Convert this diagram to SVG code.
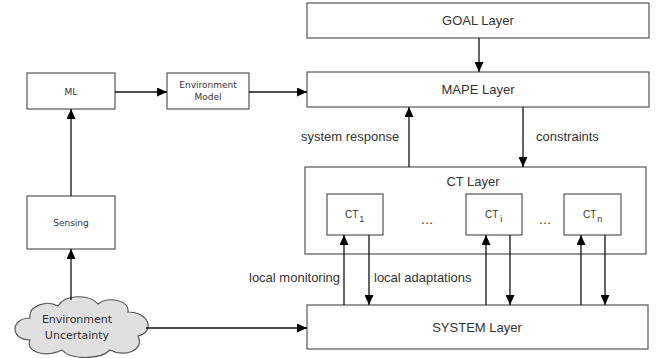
<svg xmlns="http://www.w3.org/2000/svg" width="657" height="358" viewBox="0 0 657 358">
<defs>
<marker id="ah" markerUnits="userSpaceOnUse" markerWidth="10" markerHeight="9" refX="10" refY="4.5" orient="auto">
<path d="M0,0 L10,4.5 L0,9 z" fill="#000"/>
</marker>
<style>
.box{fill:#fff;stroke:#555;stroke-width:1.2}
.lt{font-family:"Liberation Sans",Arial,sans-serif;font-size:13px;fill:#333}
.st{font-family:"DejaVu Sans",Verdana,sans-serif;font-size:9px;fill:#333}
.ct{font-family:"Liberation Sans",Arial,sans-serif;font-size:10px;fill:#333}
.sub{font-size:9px}
.c{stroke:#111;stroke-width:1.3;fill:none;marker-end:url(#ah)}
.cn{stroke:#111;stroke-width:1.3;fill:none}
</style>
</defs>
<rect width="657" height="358" fill="#fff"/>
<g id="goal"><rect class="box" x="307" y="3" width="342" height="35"/><text class="lt" x="478" y="25" text-anchor="middle">GOAL Layer</text></g>
<g id="mape"><rect class="box" x="307" y="72" width="342" height="35"/><text class="lt" x="478" y="94" text-anchor="middle">MAPE Layer</text></g>
<g id="ml"><rect class="box" x="27" y="73" width="88" height="36"/><text class="st" x="71" y="95" text-anchor="middle">ML</text></g>
<g id="envmodel"><rect class="box" x="167" y="73" width="82" height="36"/><text class="st" x="208" y="88" text-anchor="middle">Environment</text><text class="st" x="208" y="100" text-anchor="middle">Model</text></g>
<g id="sensing"><rect class="box" x="27" y="196" width="88" height="53"/><text class="st" x="71" y="226" text-anchor="middle">Sensing</text></g>
<g id="ctlayer"><rect class="box" x="305" y="167" width="341" height="87"/><text class="lt" x="473" y="186" text-anchor="middle">CT Layer</text>
<text class="lt" x="427" y="224" text-anchor="middle">…</text><text class="lt" x="545" y="224" text-anchor="middle">…</text></g>
<g id="ct1"><rect class="box" x="327" y="194" width="56" height="41"/><text class="ct" x="345" y="218">CT<tspan class="sub" dx="1" dy="4">1</tspan></text></g>
<g id="cti"><rect class="box" x="466" y="194" width="56" height="41"/><text class="ct" x="485" y="218">CT<tspan class="sub" dx="2" dy="4">i</tspan></text></g>
<g id="ctn"><rect class="box" x="564" y="194" width="57" height="41"/><text class="ct" x="583" y="218">CT<tspan class="sub" dx="1" dy="4">n</tspan></text></g>
<g id="system"><rect class="box" x="307" y="305" width="341" height="44"/><text class="lt" x="477" y="332" text-anchor="middle">SYSTEM Layer</text></g>
<g id="cloud"><path d="M30 340 C10 340 10 318 30 318 C28 305 48 300 58 306 C65 294 90 294 98 304 C108 296 130 300 128 312 C150 312 155 332 138 336 C145 350 125 358 110 350 C100 360 70 360 62 350 C45 358 25 352 30 340 Z" fill="#e0e0e0" stroke="#555" stroke-width="1.2"/>
<text font-family="DejaVu Sans,Verdana,sans-serif" font-size="11" fill="#333" x="77" y="323" text-anchor="middle">Environment</text>
<text font-family="DejaVu Sans,Verdana,sans-serif" font-size="11" fill="#333" x="77" y="339" text-anchor="middle">Uncertainty</text></g>
<g id="connectors">
<line class="c" x1="479" y1="38" x2="479" y2="72"/>
<line class="c" x1="115" y1="92" x2="167" y2="92"/>
<line class="c" x1="249" y1="92" x2="307" y2="92"/>
<line class="c" x1="71" y1="196" x2="71" y2="109"/>
<line class="c" x1="71" y1="300" x2="71" y2="249"/>
<line class="c" x1="146" y1="328" x2="307" y2="328"/>
<line class="c" x1="409" y1="167" x2="409" y2="107"/>
<line class="c" x1="523" y1="107" x2="523" y2="167"/>
<line class="c" x1="344" y1="305" x2="344" y2="235"/>
<line class="c" x1="369" y1="235" x2="369" y2="305"/>
<line class="c" x1="486" y1="305" x2="486" y2="235"/>
<line class="c" x1="510" y1="235" x2="510" y2="305"/>
<line class="c" x1="581" y1="305" x2="581" y2="235"/>
<line class="c" x1="605" y1="235" x2="605" y2="305"/>
<text class="lt" x="301" y="141">system response</text>
<text class="lt" x="536" y="141">constraints</text>
<text class="lt" x="249" y="282">local monitoring</text>
<text class="lt" x="374" y="282">local adaptations</text>
</g>
</svg>
